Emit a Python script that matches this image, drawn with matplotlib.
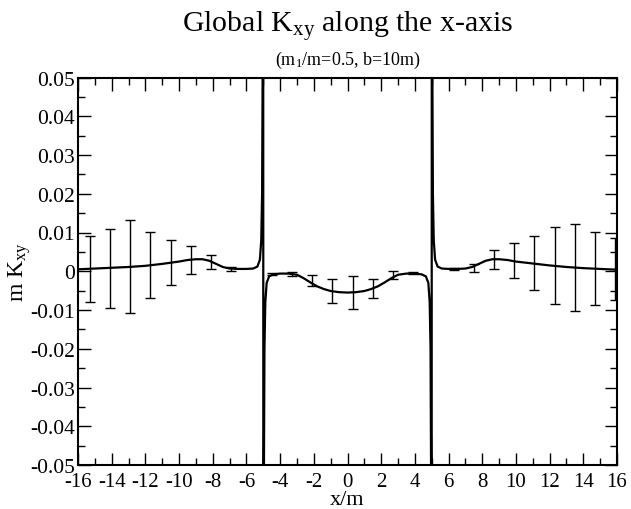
import matplotlib
matplotlib.use("Agg")
import matplotlib.pyplot as plt
from matplotlib.ticker import MultipleLocator, FuncFormatter

plt.rcParams['font.family'] = ['Liberation Serif', 'DejaVu Serif']
plt.rcParams['mathtext.fontset'] = 'custom'
plt.rcParams['mathtext.rm'] = 'Liberation Serif'
plt.rcParams['mathtext.it'] = 'Liberation Serif:italic'
plt.rcParams['axes.unicode_minus'] = False

# continuous curve (singular at x = -5 and x = +5)
curve_x = [-16, -15, -14, -13, -12, -11, -10, -9.5, -9.0, -8.6, -8.2, -7.8, -7.4,
           -7.0, -6.5, -6.0, -5.6, -5.35, -5.2, -5.12, -5.07, -5.03, -5.01,
           -4.99, -4.97, -4.93, -4.88, -4.8, -4.65, -4.4, -4.0, -3.5, -3.0, -2.6,
           -2.2, -1.8, -1.4, -1.0, -0.5, 0.0, 0.5, 1.0, 1.4, 1.8, 2.2, 2.6, 3.0,
           3.5, 4.0, 4.4, 4.65, 4.8, 4.88, 4.93, 4.97, 4.99,
           5.01, 5.03, 5.07, 5.12, 5.2, 5.35, 5.6, 6.0, 6.5, 7.0, 7.4, 7.8, 8.2,
           8.6, 9.0, 9.5, 10, 11, 12, 13, 14, 15, 16]
curve_y = [0.0005, 0.0007, 0.0009, 0.0011, 0.0014, 0.0019, 0.0025, 0.0029, 0.0031,
           0.0031, 0.0027, 0.0019, 0.0011, 0.0007, 0.0006, 0.0006, 0.0007, 0.0012,
           0.003, 0.008, 0.02, 0.06, 0.2,
           -0.2, -0.06, -0.02, -0.008, -0.003, -0.0013, -0.0008, -0.0006, -0.0006,
           -0.0009, -0.0018, -0.0029, -0.0039, -0.0046, -0.0051, -0.0054, -0.0055,
           -0.0054, -0.0051, -0.0046, -0.0039, -0.0029, -0.0018, -0.0009, -0.0006,
           -0.0006, -0.0008, -0.0013, -0.003, -0.008, -0.02, -0.06, -0.2,
           0.2, 0.06, 0.02, 0.008, 0.003, 0.0012, 0.0007, 0.0006, 0.0006, 0.0007,
           0.0011, 0.0019, 0.0027, 0.0031, 0.0031, 0.0029, 0.0025, 0.0020, 0.0015,
           0.0011, 0.0008, 0.0006, 0.0004]

# error-bar points
err_x = [-15.3, -14.1, -12.9, -11.7, -10.5, -9.3, -8.1, -6.9,
         -4.5, -3.3, -2.1, -0.9, 0.3, 1.5, 2.7, 3.9,
         6.3, 7.5, 8.7, 9.9, 11.1, 12.3, 13.5, 14.7, 15.9]
err_y = [0.0006, 0.0008, 0.0012, 0.00165, 0.0023, 0.003, 0.0024, 0.0006,
         -0.0007, -0.0007, -0.00245, -0.0052, -0.0055, -0.0045, -0.0009, -0.0004,
         0.0006, 0.00085, 0.0031, 0.0028, 0.0021, 0.00145, 0.001, 0.00075, 0.00065]
err_e = [0.0086, 0.0102, 0.0119, 0.00855, 0.0058, 0.0036, 0.0018, 0.0006,
         0.0002, 0.0005, 0.0014, 0.0031, 0.0042, 0.0024, 0.001, 0.0002,
         0.0002, 0.001, 0.0025, 0.0045, 0.0069, 0.00985, 0.0113, 0.0094, 0.008]

fig = plt.figure(figsize=(6.31, 5.10), dpi=100)
ax = fig.add_axes([78 / 631, 1 - 466 / 510, (617 - 78) / 631, (466 - 78.5) / 510])

ax.plot(curve_x, curve_y, color='black', lw=1.6, zorder=3)
ax.errorbar(err_x, err_y, yerr=err_e, fmt='none', ecolor='black',
            elinewidth=1.0, capsize=3.8, capthick=1.0, zorder=2)

ax.set_xlim(-16, 16)
ax.set_ylim(-0.05, 0.05)
ax.xaxis.set_major_locator(MultipleLocator(2))
ax.xaxis.set_minor_locator(MultipleLocator(1))
ax.yaxis.set_major_locator(MultipleLocator(0.01))
ax.yaxis.set_minor_locator(MultipleLocator(0.005))


def yfmt(v, pos):
    if abs(v) < 1e-9:
        return "0"
    return ("%.2f" % v)


def xfmt(v, pos):
    return "%d" % round(v)


ax.yaxis.set_major_formatter(FuncFormatter(yfmt))
ax.xaxis.set_major_formatter(FuncFormatter(xfmt))
ax.tick_params(which='both', direction='in', top=True, right=True, width=1.0)
ax.tick_params(axis='y', pad=2, labelsize=15.5)
ax.tick_params(axis='x', pad=5, labelsize=15)
ax.tick_params(which='major', length=9)
ax.tick_params(which='minor', length=5)
for s in ax.spines.values():
    s.set_linewidth(1.5)

ax.set_xlabel("x/m", fontsize=16, labelpad=-1)
ax.set_ylabel("m K$_{\\mathrm{xy}}$", fontsize=17, labelpad=-2)

fig.text(0.5 * (78 + 617) / 631, 1 - 26 / 510, "Global K$_{\\mathrm{xy}}$ along the x-axis",
         ha='center', va='center', fontsize=21.5)
fig.text(0.5 * (78 + 617) / 631, 1 - 60 / 510, "(m$_{\\mathrm{1}}$/m=0.5, b=10m)",
         ha='center', va='center', fontsize=13)

fig.savefig("out.png", dpi=100)
